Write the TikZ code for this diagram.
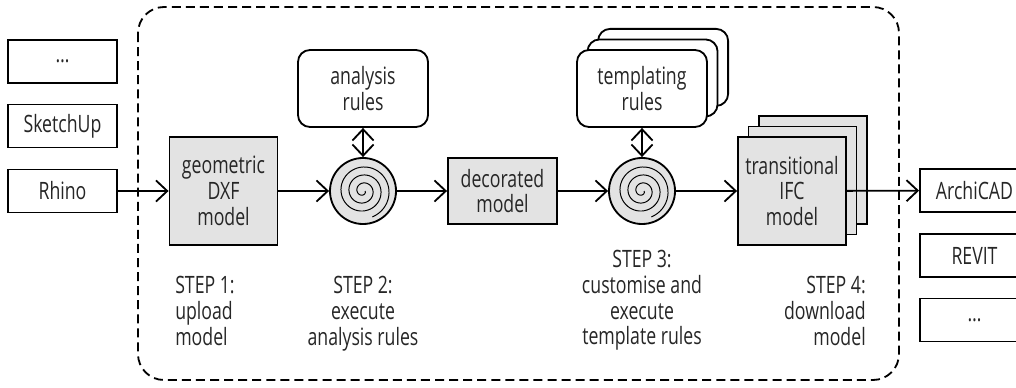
\documentclass[tikz,border=0pt]{standalone}
\usepackage{fontspec}
\setmainfont[FakeStretch=0.74]{Open Sans}
\usetikzlibrary{arrows.meta,shadows}

\tikzset{
  flow/.style={line width=1.3pt, -{Straight Barb[length=8pt,width=15pt]}},
  both/.style={line width=1.3pt, {Straight Barb[length=8pt,width=15pt]}-{Straight Barb[length=8pt,width=15pt]}},
  txt/.style={font=\fontsize{17}{18.3}\selectfont, text=black!85},
  srcbox/.style={txt, draw=black, line width=1.3pt, fill=white, minimum width=2.725cm, minimum height=1.075cm, inner sep=0pt},
  modelbox/.style={txt, draw=black, line width=1.3pt, fill=black!11, minimum width=2.7cm, align=center, inner sep=0pt},
  rulebox/.style={txt, draw=black, line width=1.3pt, fill=white, rounded corners=0.3cm, minimum width=3.25cm, minimum height=1.925cm, align=center, inner sep=0pt},
  proc/.style={circle, draw=black, line width=1.3pt, fill=black!11, minimum size=1.65cm, inner sep=0pt},
  spiralline/.style={line width=0.7pt},
  steplabel/.style={txt, inner sep=0pt},
  layers/.style={copy shadow={shadow xshift=15pt, shadow yshift=15pt, #1},
                 copy shadow={shadow xshift=7.5pt, shadow yshift=7.5pt, #1}}
}

\begin{document}
\begin{tikzpicture}[x=0.025cm, y=-0.025cm]
  \useasboundingbox (0,0) rectangle (1016,387);

  % dashed frame round the steps
  \draw[line width=1.3pt, dash pattern=on 6.4pt off 3.6pt, rounded corners=0.65cm] (138,7) rectangle (899,380);

  % input and output tools
  \foreach \name/\label/\y in {in-3/\ldots/61.5, in-2/SketchUp/126, in-1/Rhino/191}
    \node[srcbox] (\name) at (62.5,\y) {\label};
  \foreach \name/\label/\y in {out-1/ArchiCAD/190.5, out-2/REVIT/255.5, out-3/\ldots/320}
    \node[srcbox] (\name) at (974.5,\y) {\label};

  % models
  \node[modelbox, minimum height=2.7cm] (dxf) at (223.5,191) {geometric\\DXF\\model};
  \node[modelbox, minimum width=2.725cm, minimum height=1.65cm] (deco) at (502.5,191) {decorated\\model};
  \node[modelbox, minimum height=2.7cm, layers={draw=black, fill=black!11, line width=1.3pt}] (ifc) at (792,191) {transitional\\IFC\\model};

  % rules
  \node[rulebox] (ana) at (363,88.5) {analysis\\rules};
  \node[rulebox, layers={draw=black, fill=white, line width=1.3pt, rounded corners=0.3cm}] (tpl) at (642,88.5) {templating\\rules};

  % processing
  \node[proc] (p-1) at (363,191) {};
  \node[proc] (p-2) at (642,191) {};
  \foreach \p in {p-1, p-2}
    \draw[spiralline, shift={(\p.center)}] plot[domain=0:1150, samples=160, smooth] (\x:{2+\x/360*8});

  \draw[flow] (in-1) -- (dxf);
  \draw[flow] (dxf) -- (p-1);
  \draw[flow] (p-1) -- (deco);
  \draw[flow] (deco) -- (p-2);
  \draw[flow] (p-2) -- (ifc);
  \draw[flow] (ifc) -- (out-1);
  \draw[both] (ana) -- (p-1);
  \draw[both] (tpl) -- (p-2);

  % step labels
  \node[steplabel, anchor=north west, align=left] (s-1) at (175,276) {STEP 1:\\upload\\model};
  \node[steplabel, anchor=north, align=center] (s-2) at (363,276) {STEP 2:\\execute\\analysis rules};
  \node[steplabel, anchor=north, align=center] (s-3) at (642,250) {STEP 3:\\customise and\\execute\\template rules};
  \node[steplabel, anchor=north east, align=right] (s-4) at (866,276) {STEP 4:\\download\\model};
\end{tikzpicture}
\end{document}
